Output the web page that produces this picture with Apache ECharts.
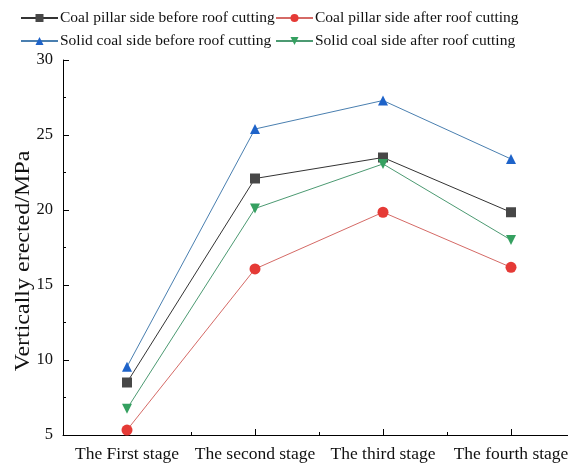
<!DOCTYPE html>
<html>
<head>
<meta charset="utf-8">
<script src="https://cdn.jsdelivr.net/npm/echarts@6/dist/echarts.min.js"></script>
<style>html,body{margin:0;padding:0;background:#fff}#c{width:568px;height:464px}</style>
</head>
<body>
<div id="c"></div>
<script>
const categories = ['The First stage', 'The second stage', 'The third stage', 'The fourth stage'];
const seriesNames = ['Coal pillar side before roof cutting', 'Coal pillar side after roof cutting', 'Solid coal side before roof cutting', 'Solid coal side after roof cutting'];
const pillarBefore = [8.5, 22.1, 23.5, 19.85];
const pillarAfter = [5.33, 16.07, 19.85, 16.18];
const solidBefore = [9.55, 25.4, 27.3, 23.4];
const solidAfter = [6.75, 20.1, 23.07, 18.0];
const yTicks = [5, 10, 15, 20, 25, 30];
const yName = 'Vertically erected/MPa';

const font = 'Liberation Serif, Times New Roman, serif';
const colors = ['#474747', '#e53a36', '#1e63c9', '#35a060'];
const lineColors = ['#333333', '#d56a66', '#4a7fb0', '#4c9a72'];
const symbols = ['rect', 'circle', 'triangle', 'triangle'];
const rotations = [0, 0, 0, 180];
const datas = [pillarBefore, pillarAfter, solidBefore, solidAfter];

const chart = echarts.init(document.getElementById('c'), null, {renderer: 'canvas'});

function mkLegend(i, left, top) {
  return {
    data: [seriesNames[i]],
    left: left, top: top, itemWidth: 37, itemHeight: 10, itemGap: 0, padding: 0,
    textStyle: {fontFamily: font, fontSize: 15.5, color: '#111', padding: [0, 0, 0, -3]},
    selectedMode: false
  };
}

chart.setOption({
  backgroundColor: '#fff',
  animation: false,
  legend: [mkLegend(0, 20, 10), mkLegend(1, 275, 10), mkLegend(2, 20, 33), mkLegend(3, 275, 33)],
  grid: {left: 63, width: 512, top: 60, height: 375, containLabel: false, outerBoundsMode: 'none'},
  xAxis: [{
    type: 'category', data: categories, boundaryGap: true,
    axisLine: {lineStyle: {color: '#000', width: 1}},
    axisTick: {show: true, inside: true, alignWithLabel: true, length: 6, lineStyle: {color: '#000', width: 1}},
    axisLabel: {fontFamily: font, fontSize: 17.5, color: '#111', margin: 10, interval: 0, hideOverlap: false},
    splitLine: {show: false}
  }, {
    type: 'category', data: categories, boundaryGap: true, position: 'bottom', offset: 0,
    axisLine: {show: false},
    axisTick: {show: true, inside: true, alignWithLabel: false, interval: 0, length: 3, lineStyle: {color: '#000', width: 1}},
    axisLabel: {show: false}, splitLine: {show: false}
  }],
  yAxis: {
    type: 'value', min: yTicks[0], max: yTicks[yTicks.length - 1], interval: 5,
    axisLine: {show: true, lineStyle: {color: '#000', width: 1}},
    axisTick: {show: true, inside: true, length: 6, lineStyle: {color: '#000', width: 1}},
    minorTick: {show: true, splitNumber: 2, length: 3, lineStyle: {color: '#000', width: 1}},
    axisLabel: {fontFamily: font, fontSize: 16.5, color: '#111', margin: 10},
    splitLine: {show: false}
  },
  graphic: [{
    type: 'text', x: 24, y: 261, rotation: Math.PI / 2, scaleX: 1.2,
    style: {text: yName, font: '20px ' + font, fill: '#111', textAlign: 'center', textVerticalAlign: 'middle'}
  }],
  series: datas.map((d, i) => ({
    name: seriesNames[i], type: 'line', data: d, xAxisIndex: 0,
    symbol: symbols[i], symbolRotate: rotations[i], symbolSize: i === 1 ? 11 : 10,
    itemStyle: {color: colors[i]},
    lineStyle: {color: lineColors[i], width: 1},
    z: 2
  }))
});
</script>
</body>
</html>
